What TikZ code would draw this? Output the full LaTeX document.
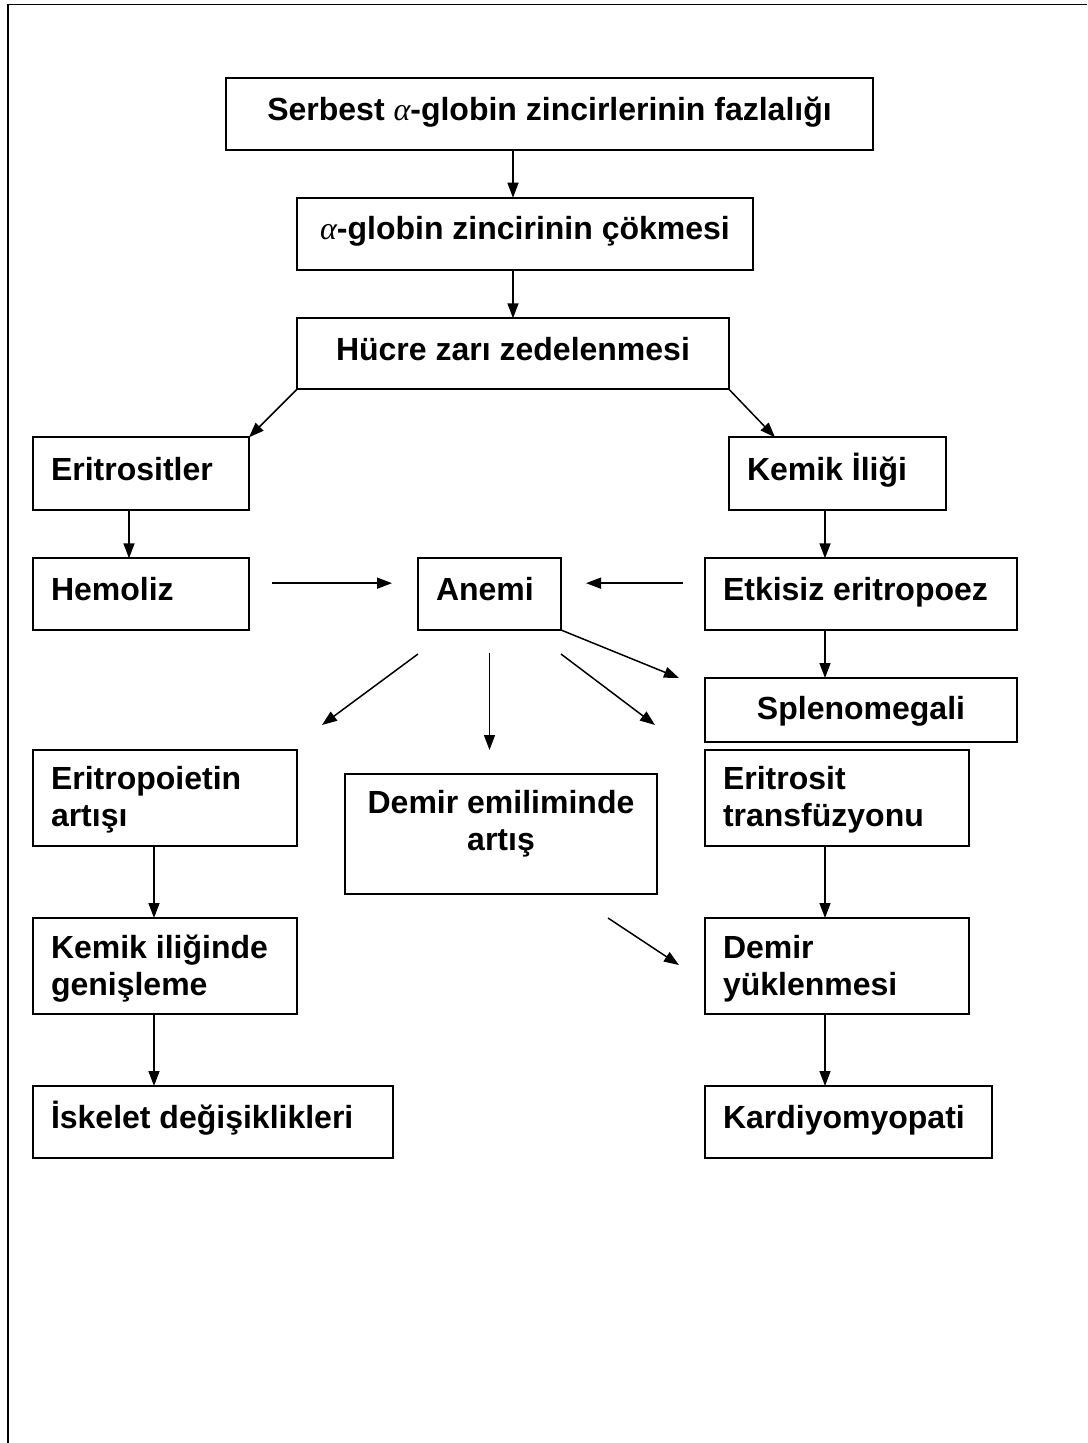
\documentclass[tikz,border=0pt]{standalone}
\usepackage{fontspec}
\setmainfont{Liberation Sans}
\newfontfamily\alphafont{Liberation Serif}
\usetikzlibrary{arrows.meta,calc}
\newcommand\cellL[4]{\parbox[t][#2pt][t]{#1pt}{\raggedright\leftskip=18pt\parindent=0pt\hyphenpenalty=10000\baselineskip=37pt\vspace*{#3pt}\rule{0pt}{31pt}#4}}
\newcommand\cellC[4]{\parbox[t][#2pt][t]{#1pt}{\centering\parindent=0pt\hyphenpenalty=10000\baselineskip=37pt\vspace*{#3pt}\rule{0pt}{31pt}#4}}
\newcommand\alf{{\alphafont\mdseries\itshape α}}
\begin{document}
\begin{tikzpicture}[x=1pt,y=-1pt,
  bx/.style={draw, line width=1.8pt, inner sep=0pt, outer sep=0pt, anchor=north west,
             font=\bfseries\fontsize{32}{37}\selectfont},
  arr/.style={line width=1.5pt, -{Triangle[length=15pt,width=11pt]}},
  frame/.style={line width=1.8pt}]
\useasboundingbox (0,0) rectangle (1087,1443);
% outer frame (top and left edges only)
\draw[frame] (8,1443) -- (8,4.5) -- (1087,4.5);
% column coordinates
\coordinate (cA) at (513,0);
\coordinate (cL1) at (129,0);
\coordinate (cL2) at (154,0);
\coordinate (cR) at (825,0);
% boxes
\node[bx] (top) at (226,78.3) {\cellC{647}{72}{11}{Serbest \alf-globin zincirlerinin fazlalığı}};
\node[bx] (cokme) at (297,197.7) {\cellC{456}{72}{11}{\alf-globin zincirinin çökmesi}};
\node[bx] (hucre) at (297,318.3) {\cellC{432}{71}{11}{Hücre zarı zedelenmesi}};
\node[bx] (erit) at (33,437.3) {\cellL{216}{72.7}{12}{Eritrositler}};
\node[bx] (kemik) at (729,437.3) {\cellL{217}{72.7}{12}{Kemik İliği}};
\node[bx] (hemo) at (33,558.3) {\cellL{216}{71.7}{11}{Hemoliz}};
\node[bx] (anemi) at (418,558.3) {\cellL{143}{71.7}{11}{Anemi}};
\node[bx] (etk) at (705,558.3) {\cellL{312}{71.7}{11}{Etkisiz eritropoez}};
\node[bx] (splen) at (705,678) {\cellC{312}{64}{10}{Splenomegali}};
\node[bx] (epo) at (33,750) {\cellL{264}{96}{8.5}{Eritropoietin\\artışı}};
\node[bx] (demem) at (345,774) {\cellC{312}{120}{8.3}{Demir emiliminde\\artış}};
\node[bx] (transf) at (705,750) {\cellL{264}{96}{8.5}{Eritrosit\\transfüzyonu}};
\node[bx] (genis) at (33,918) {\cellL{264}{96}{9.5}{Kemik iliğinde\\genişleme}};
\node[bx] (yuk) at (705,918) {\cellL{264}{96}{9.5}{Demir\\yüklenmesi}};
\node[bx] (isk) at (33,1086) {\cellL{360}{72}{11}{İskelet değişiklikleri}};
\node[bx] (kardi) at (705,1086) {\cellL{287}{72}{11}{Kardiyomyopati}};
% connectors
\draw[arr] (top.south -| cA) -- (cokme.north -| cA);
\draw[arr] (cokme.south -| cA) -- (hucre.north -| cA);
\draw[arr] (hucre.south west) -- (erit.north east);
\draw[arr] (hucre.south east) -- ($(kemik.north west)+(46,0)$);
\draw[arr] (erit.south -| cL1) -- (hemo.north -| cL1);
\draw[arr] (kemik.south -| cR) -- (etk.north -| cR);
\draw[arr] ($(hemo.east)+(23,-11)$) -- ($(anemi.west)+(-26,-11)$);
\draw[arr] ($(etk.west)+(-22,-11)$) -- ($(anemi.east)+(25,-11)$);
\draw[arr] (anemi.south east) -- ($(splen.north west)+(-26,0)$);
\draw[arr] (etk.south -| cR) -- (splen.north -| cR);
\draw[arr] ($(anemi.south west)+(0,24)$) -- ($(epo.north east)+(25,-25)$);
\draw[arr] ($(anemi.south)+(0,23)$) -- ($(demem.north -| anemi.south)+(0,-24)$);
\draw[arr] ($(anemi.south east)+(0,24)$) -- ($(transf.north west)+(-50,-25)$);
\draw[arr] (epo.south -| cL2) -- (genis.north -| cL2);
\draw[arr] (genis.south -| cL2) -- (isk.north -| cL2);
\draw[arr] (transf.south -| cR) -- (yuk.north -| cR);
\draw[arr] ($(demem.south east)+(-49,24)$) -- ($(yuk.west)+(-26,-1)$);
\draw[arr] (yuk.south -| cR) -- (kardi.north -| cR);
\end{tikzpicture}
\end{document}
